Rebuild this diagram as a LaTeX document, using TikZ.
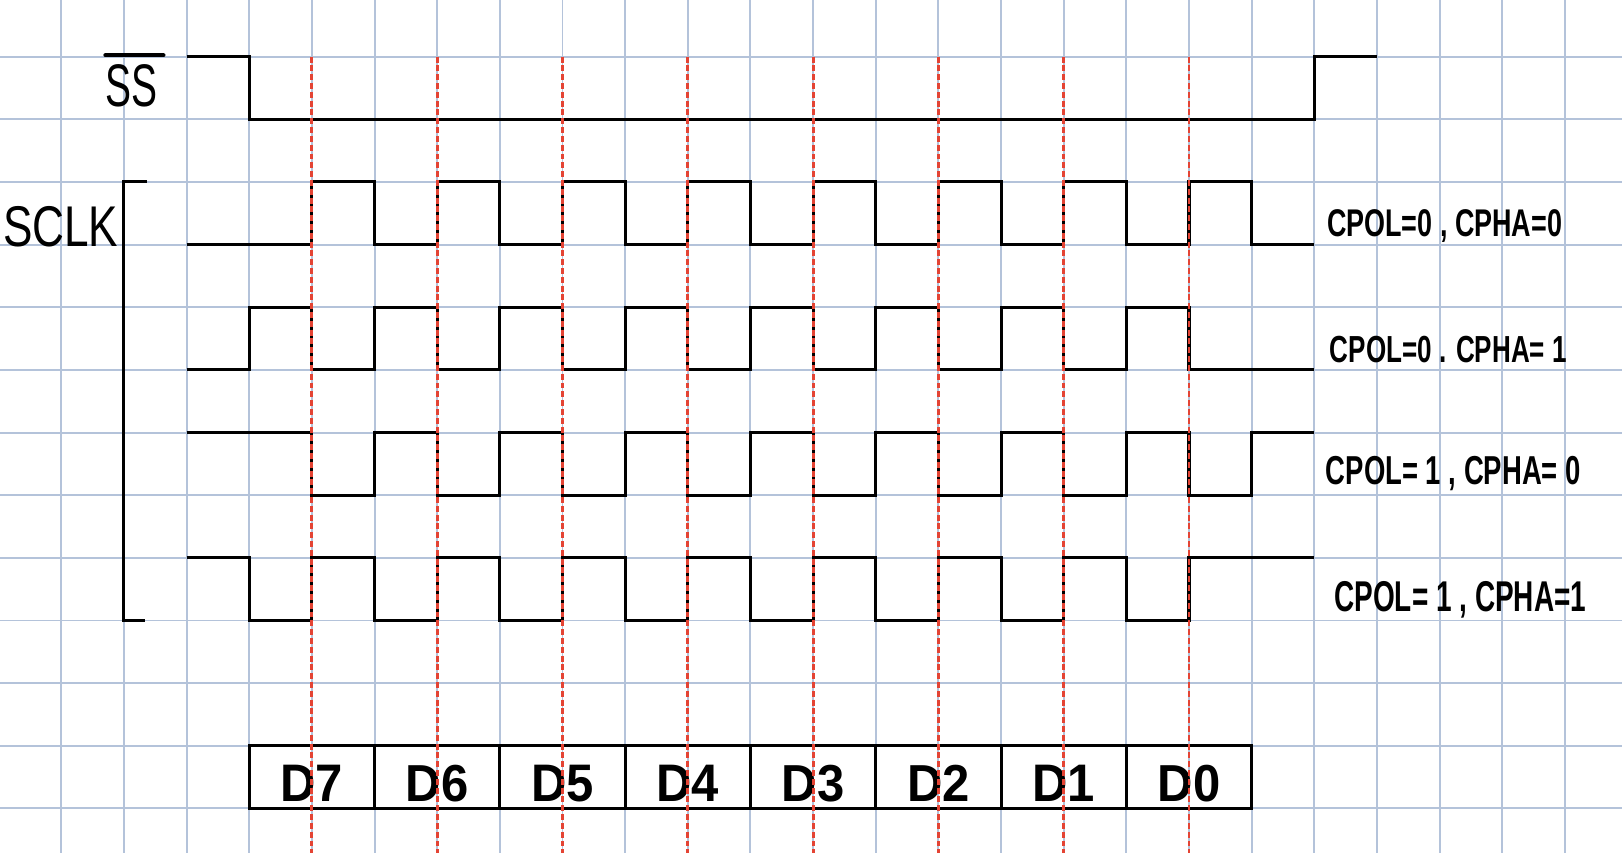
\documentclass[tikz,border=0pt]{standalone}
\usepackage{fontspec}
\setmainfont{Liberation Sans}
\usepackage{graphicx}
\definecolor{gridc}{RGB}{180,195,218}
\definecolor{redd}{RGB}{228,68,52}
\tikzset{
  gridline/.style={draw=gridc, line width=0.9pt},
  wave/.style={draw=black, line width=1.4pt, line join=miter},
  marker/.style={draw=redd, line width=1.3pt, dash pattern=on 2.7pt off 1.3pt},
  lbl/.style={inner sep=0pt, outer sep=0pt},
  cell/.style={draw=black, line width=1.4pt, minimum width=2cm, minimum height=1cm, inner sep=0pt, font=\bfseries}
}
\newcommand{\fitbox}[3]{\resizebox{#1}{#2}{#3}}
\begin{document}
\begin{tikzpicture}
\useasboundingbox (0.0215,-13.711) rectangle (25.9115,-0.0958);
\clip (0.0215,-13.711) rectangle (25.9115,-0.0958);
% grid
\foreach \k in {0,...,26} \draw[gridline] (\k,0.2) -- (\k,-14);
\foreach \j in {0,...,14} \draw[gridline] (-0.2,-\j) -- (26.2,-\j);

% labels
\node[lbl] (ss) at (2.12,-1.47) {\fitbox{0.83cm}{0.67cm}{SS}};
\draw[line width=1.9pt, line cap=round] ([yshift=4.3pt]ss.north west) -- ([xshift=2.7pt,yshift=4.3pt]ss.north east);
\node[lbl] (sclk) at (0.99,-3.72) {\fitbox{1.84cm}{0.64cm}{SCLK}};

% bracket
\draw[wave] (2.37,-3) -- (2,-3) -- (2,-10) -- (2.34,-10);

% SS waveform
\draw[wave] (3,-1) -- (4,-1) -- (4,-2) -- (21,-2) -- (21,-1) -- (22,-1);

% clocks
\draw[wave] (3,-4) foreach \i in {5,7,...,19} { -- (\i,-4) -- (\i,-3) -- ({\i+1},-3) -- ({\i+1},-4) } -- (21,-4);
\draw[wave] (3,-6) foreach \i in {4,6,...,18} { -- (\i,-6) -- (\i,-5) -- ({\i+1},-5) -- ({\i+1},-6) } -- (21,-6);
\draw[wave] (3,-7) foreach \i in {5,7,...,19} { -- (\i,-7) -- (\i,-8) -- ({\i+1},-8) -- ({\i+1},-7) } -- (21,-7);
\draw[wave] (3,-9) foreach \i in {4,6,...,18} { -- (\i,-9) -- (\i,-10) -- ({\i+1},-10) -- ({\i+1},-9) } -- (21,-9);

% mode labels
\node[lbl] (m1) at (23.08,-3.71) {\fitbox{3.75cm}{0.43cm}{\bfseries CPOL=0 , CPHA=0}};
\node[lbl] (m2) at (23.14,-5.68) {\fitbox{3.78cm}{0.42cm}{\bfseries CPOL=0 . CPHA= 1}};
\node[lbl] (m3) at (23.22,-7.66) {\fitbox{4.07cm}{0.45cm}{\bfseries CPOL= 1 , CPHA= 0}};
\node[lbl] (m4) at (23.33,-9.67) {\fitbox{4.02cm}{0.48cm}{\bfseries CPOL= 1 , CPHA=1}};

% data cells
\foreach \n [count=\c from 0] in {7,6,5,4,3,2,1,0} {
  \node[cell] (d\n) at ({5+2*\c},-12.5) {};
  \node[lbl] (t\n) at ({5+2*\c},-12.6) {\fitbox{1.0cm}{0.58cm}{\bfseries D\n}};
}

% red markers
\foreach \i in {5,7,...,19} \draw[marker] (\i,-1) -- (\i,-14);
\end{tikzpicture}
\end{document}
